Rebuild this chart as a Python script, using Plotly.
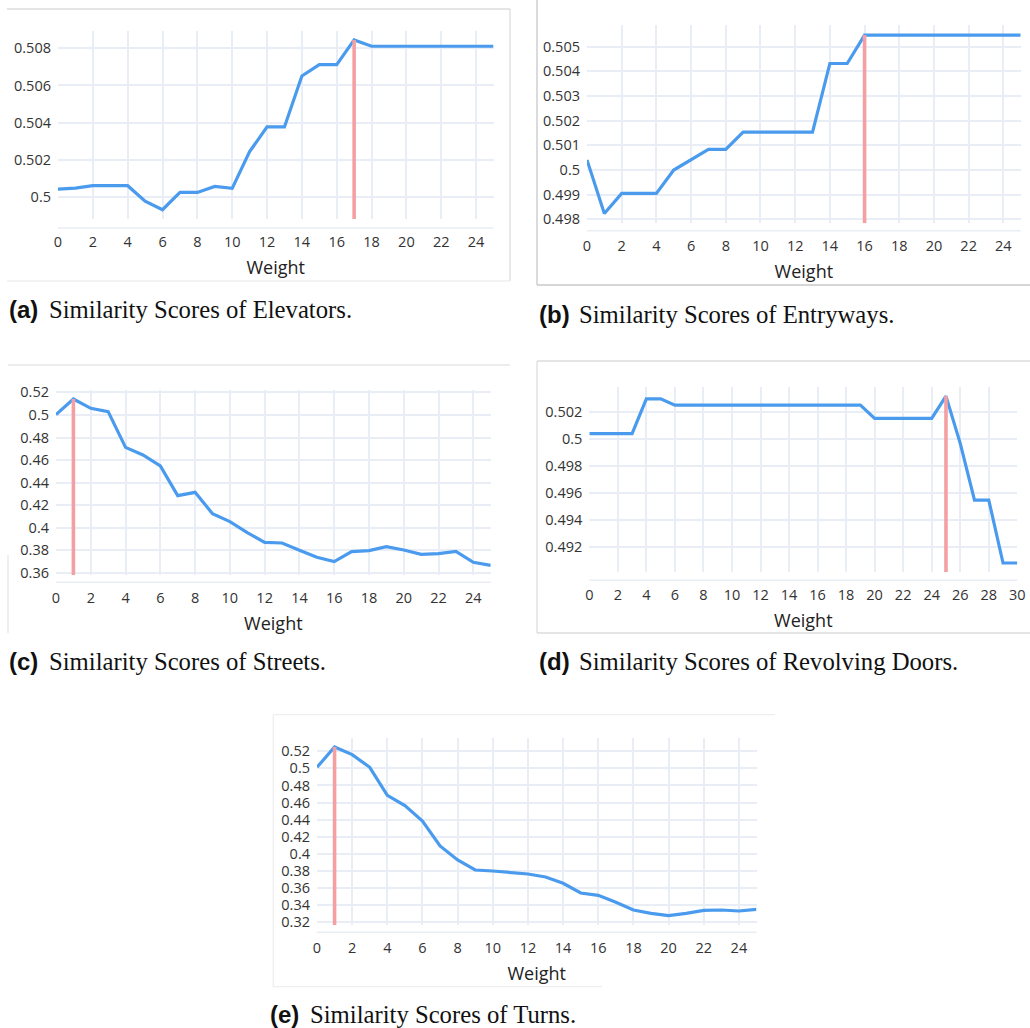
import plotly.graph_objects as go

# ---------------- data ----------------
weights_a = list(range(26))
scores_a = [0.50043, 0.50048, 0.50061, 0.50061, 0.50061, 0.49978, 0.49932, 0.50025, 0.50025,
            0.50057, 0.50047, 0.50244, 0.50377, 0.50377, 0.50651, 0.50712, 0.50712, 0.50845,
            0.50811, 0.50811, 0.50811, 0.50811, 0.50811, 0.50811, 0.50811, 0.50811]
peak_a = 17

weights_b = list(range(26))
scores_b = [0.50041, 0.49824, 0.49905, 0.49905, 0.49905, 0.50000, 0.50041, 0.50084, 0.50084,
            0.50154, 0.50154, 0.50154, 0.50154, 0.50154, 0.50432, 0.50432, 0.50547, 0.50547,
            0.50547, 0.50547, 0.50547, 0.50547, 0.50547, 0.50547, 0.50547, 0.50547]
peak_b = 16

weights_c = list(range(26))
scores_c = [0.50022, 0.51410, 0.50583, 0.50288, 0.47129, 0.46450, 0.45476, 0.42849, 0.43144,
            0.41255, 0.40546, 0.39572, 0.38716, 0.38657, 0.38007, 0.37387, 0.37004, 0.37889,
            0.37978, 0.38332, 0.38037, 0.37653, 0.37712, 0.37919, 0.36945, 0.36679]
peak_c = 1

weights_d = list(range(31))
scores_d = [0.50042, 0.50042, 0.50042, 0.50042, 0.50301, 0.50301, 0.50254, 0.50254, 0.50254,
            0.50254, 0.50254, 0.50254, 0.50254, 0.50254, 0.50254, 0.50254, 0.50254, 0.50254,
            0.50254, 0.50254, 0.50155, 0.50155, 0.50155, 0.50155, 0.50155, 0.50321, 0.49970,
            0.49549, 0.49549, 0.49081, 0.49081]
peak_d = 25

weights_e = list(range(26))
scores_e = [0.50125, 0.52508, 0.51609, 0.50125, 0.46844, 0.45633, 0.43836, 0.40906, 0.39266,
            0.38094, 0.37977, 0.37781, 0.37625, 0.37273, 0.36531, 0.35398, 0.35125, 0.34305,
            0.33406, 0.33016, 0.32742, 0.33016, 0.33367, 0.33406, 0.33289, 0.33484]
peak_e = 1

captions_tag = ["(a)", "(b)", "(c)", "(d)", "(e)"]
captions_text = ["Similarity Scores of Elevators.", "Similarity Scores of Entryways.",
                 "Similarity Scores of Streets.", "Similarity Scores of Revolving Doors.",
                 "Similarity Scores of Turns."]
x_title = "Weight"

# ---------------- layout helpers ----------------
W, H = 1030, 1028
def fx(px):
    return px / W
def fy(py):
    return 1 - py / H

BLUE = "#4A9BEE"
RED = "#F4A0A3"
GRID = "#E9EEF6"
BORDER = "#DDDDDD"

panels = [
    dict(x=weights_a, y=scores_a, peak=peak_a, xd=(58, 493.5), yd=(31, 219),
         yr=(0.49882, 0.50893), dt=0.002, xr=(0, 25), base=228, cap=(7, 309)),
    dict(x=weights_b, y=scores_b, peak=peak_b, xd=(587, 1020.7), yd=(25, 223.3),
         yr=(0.49784, 0.50588), dt=0.001, xr=(0, 25), base=230.7, cap=(537, 314)),
    dict(x=weights_c, y=scores_c, peak=peak_c, xd=(56, 490.7), yd=(390, 575),
         yr=(0.35823, 0.52207), dt=0.02, xr=(0, 25), base=582.3, cap=(7, 661)),
    dict(x=weights_d, y=scores_d, peak=peak_d, xd=(589.3, 1017.3), yd=(386.7, 572.3),
         yr=(0.49012, 0.50391), dt=0.002, xr=(0, 30), base=580.3, cap=(537, 661)),
    dict(x=weights_e, y=scores_e, peak=peak_e, xd=(317, 756.5), yd=(738.3, 925),
         yr=(0.31648, 0.53523), dt=0.02, xr=(0, 25), base=932.3, cap=(268, 1014)),
]

fig = go.Figure()
layout = {}
shapes = []
annotations = []

for i, p in enumerate(panels, start=1):
    suf = "" if i == 1 else str(i)
    xa, ya = "x" + suf, "y" + suf
    fig.add_trace(go.Scatter(x=p["x"], y=p["y"], mode="lines",
                             line=dict(color=BLUE, width=3.2),
                             xaxis=xa, yaxis=ya, showlegend=False))
    pk = p["peak"]
    fig.add_trace(go.Scatter(x=[p["x"][pk], p["x"][pk]], y=[p["yr"][0], p["y"][pk]],
                             mode="lines", line=dict(color=RED, width=3.6),
                             xaxis=xa, yaxis=ya, showlegend=False))
    layout["xaxis" + suf] = dict(
        domain=[fx(p["xd"][0]), fx(p["xd"][1])], range=list(p["xr"]), dtick=2, tick0=0,
        anchor=ya, showgrid=True, gridcolor=GRID, gridwidth=1.5, zeroline=False,
        showline=False, ticks="", ticklabelstandoff=12, automargin=False,
        tickfont=dict(family="Open Sans", size=14.5, color="#333333"),
        title=dict(text=x_title, standoff=11,
                   font=dict(family="Open Sans", size=18, color="#222222")),
    )
    layout["yaxis" + suf] = dict(
        domain=[fy(p["yd"][1]), fy(p["yd"][0])], range=list(p["yr"]), dtick=p["dt"],
        anchor=xa, showgrid=True, gridcolor=GRID, gridwidth=1.5, zeroline=False,
        showline=False, ticks="", ticklabelstandoff=6, automargin=False,
        tickfont=dict(family="Open Sans", size=14.5, color="#333333"),
    )
    # baseline below plot area
    shapes.append(dict(type="line", xref="paper", yref="paper",
                       x0=fx(p["xd"][0]), x1=fx(p["xd"][1]),
                       y0=fy(p["base"]), y1=fy(p["base"]),
                       line=dict(color=GRID, width=1.5)))
    # captions
    cx, cy = p["cap"]
    annotations.append(dict(text="<b>" + captions_tag[i - 1] + "</b>", xref="paper", yref="paper",
                            x=fx(cx), y=fy(cy), xanchor="left", yanchor="middle", showarrow=False,
                            font=dict(family="Liberation Sans", size=24, color="#111111")))
    annotations.append(dict(text=captions_text[i - 1], xref="paper", yref="paper",
                            x=fx(cx + 40), y=fy(cy), xanchor="left", yanchor="middle", showarrow=False,
                            font=dict(family="Liberation Serif", size=24.7, color="#111111")))

# screenshot frames
def hline(x0, x1, y, color=BORDER):
    shapes.append(dict(type="line", xref="paper", yref="paper", x0=fx(x0), x1=fx(x1),
                       y0=fy(y), y1=fy(y), line=dict(color=color, width=1.3)))
def vline(x, y0, y1, color=BORDER):
    shapes.append(dict(type="line", xref="paper", yref="paper", x0=fx(x), x1=fx(x),
                       y0=fy(y0), y1=fy(y1), line=dict(color=color, width=1.3)))

# (a)
hline(7, 510, 9); vline(510, 9, 281); hline(7, 510, 281, "#EEEEEE")
# (b)
vline(537, 0, 285, "#C8C8C8"); hline(537, 1030, 285, "#C8C8C8")
# (c)
hline(8, 510, 365, "#E6E6E6"); vline(8, 555, 633, "#E6E6E6")
# (d)
hline(537, 1030, 361); vline(537, 361, 633); hline(537, 1030, 633)
# (e)
hline(273, 775, 714.7, "#EEEEEE"); vline(273.3, 714.7, 986.7, "#EEEEEE"); hline(273, 602, 986.7, "#EEEEEE")

fig.update_layout(
    width=W, height=H, margin=dict(l=0, r=0, t=0, b=0),
    paper_bgcolor="white", plot_bgcolor="white", template="plotly_white",
    showlegend=False, shapes=shapes, annotations=annotations, **layout,
)

fig.write_html("out.html", config={"displayModeBar": False},
               post_script="document.body.style.margin='0';document.body.style.overflow='hidden';")
